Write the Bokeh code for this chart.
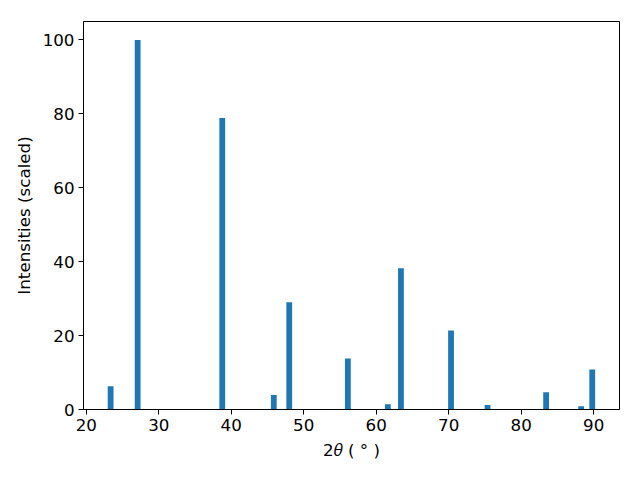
from bokeh.plotting import figure
from bokeh.models import Range1d, FixedTicker
from bokeh.embed import file_html
from bokeh.resources import INLINE

two_theta = [23.36, 27.09, 38.76, 45.87, 48.0, 56.09, 61.6, 63.41, 70.32, 75.36, 83.44, 88.27, 89.8]
intensity = [6.3, 100.0, 78.9, 3.9, 29.0, 13.8, 1.45, 38.2, 21.4, 1.2, 4.7, 0.9, 10.8]
x_ticks = [20, 30, 40, 50, 60, 70, 80, 90]
y_ticks = [0, 20, 40, 60, 80, 100]

p = figure(width=640, height=480, output_backend="svg", toolbar_location=None,
           x_range=Range1d(19.62, 93.56), y_range=Range1d(0, 105),
           min_border_left=83, min_border_right=21, min_border_top=21, min_border_bottom=71)

p.vbar(x=two_theta, top=intensity, width=0.8, bottom=0, color="#1f77b4", line_color=None)

p.xgrid.visible = False
p.ygrid.visible = False
p.outline_line_color = "black"
p.outline_line_width = 1
p.outline_line_alpha = 1

for ax, ticks in ((p.xaxis[0], x_ticks), (p.yaxis[0], y_ticks)):
    ax.ticker = FixedTicker(ticks=ticks)
    ax.major_label_text_font = "DejaVu Sans"
    ax.major_label_text_font_size = "16.7px"
    ax.major_label_text_color = "black"
    ax.axis_label_text_font = "DejaVu Sans"
    ax.axis_label_text_font_size = "16.7px"
    ax.axis_label_text_font_style = "normal"
    ax.axis_label_text_color = "black"
    ax.major_tick_out = 5
    ax.major_tick_in = 0
    ax.minor_tick_out = 0
    ax.minor_tick_in = 0
    ax.axis_line_color = "black"
    ax.major_tick_line_color = "black"
    ax.major_label_standoff = 4

p.xaxis.axis_label = "2\U0001D703 ( \u00b0 )"
p.yaxis.axis_label = "Intensities (scaled)"
p.xaxis.axis_label_standoff = 6
p.yaxis.axis_label_standoff = 6

open("out.html", "w").write(file_html(p, INLINE))
